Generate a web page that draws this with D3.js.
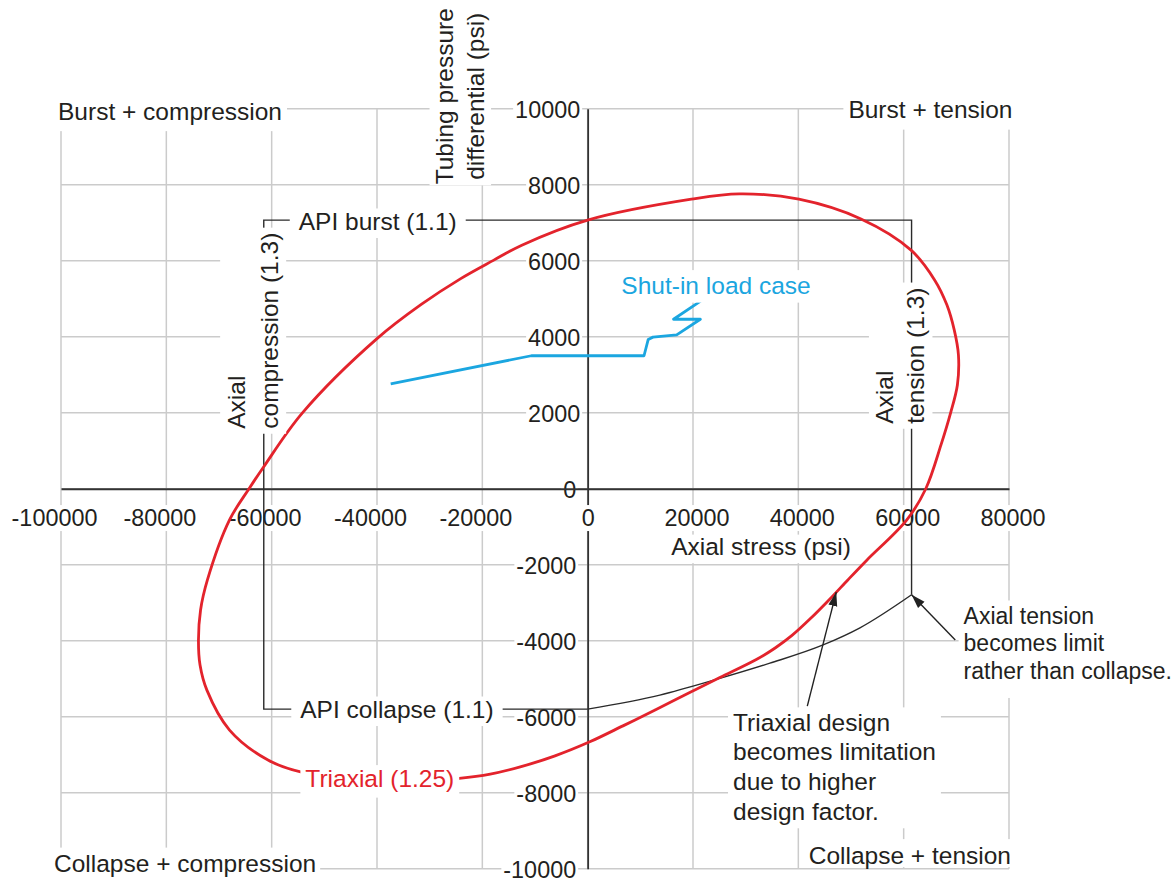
<!DOCTYPE html>
<html>
<head>
<meta charset="utf-8">
<script src="https://cdn.jsdelivr.net/npm/d3@7"></script>
<style>
  html, body { margin: 0; padding: 0; background: #fff; }
  svg { display: block; font-family: "Liberation Sans", Arial, Helvetica, sans-serif; }
</style>
</head>
<body>
<svg id="chart" width="1176" height="878"></svg>
<script>
// ---- data (psi) ----
const axialTicks = [-100000, -80000, -60000, -40000, -20000, 0, 20000, 40000, 60000, 80000];
const pressureTicks = [-10000, -8000, -6000, -4000, -2000, 0, 2000, 4000, 6000, 8000, 10000];

// API design limits
const apiBurst = 7070;              // API burst (1.1)
const apiCollapse = -5800;          // API collapse (1.1)
const apiAxialTension = 61500;      // Axial tension (1.3)
const apiAxialCompression = -61500; // Axial compression (1.3)

// collapse rating reduced by axial tension: [axial stress, pressure]
const apiCollapseUnderTension = [
  [0, apiCollapse], [13700, -5430], [24600, -5010], [34600, -4590],
  [44700, -4110], [51700, -3660], [apiAxialTension, -2790]
];

// triaxial (von Mises) envelope, design factor 1.25: [axial stress, pressure]
const triaxialEnvelope = [
  [0, 7070], [19700, 7620], [28800, 7760], [40100, 7620], [51900, 7100],
  [61400, 6280], [65900, 5490], [68200, 4840], [69600, 4180], [70400, 3520],
  [70200, 2730], [68900, 1990], [67100, 1160], [64200, 0], [60600, -820],
  [53000, -1880], [49400, -2400], [46000, -2900], [42200, -3430], [38800, -3860],
  [35600, -4190], [32200, -4480], [25100, -4970], [19000, -5390], [13000, -5810],
  [6700, -6240], [400, -6660], [-6200, -7030], [-12800, -7320], [-18500, -7510],
  [-24400, -7620], [-36600, -7720], [-54500, -7450], [-60700, -7140], [-68000, -6350],
  [-72300, -5300], [-73600, -4640], [-73900, -3980], [-73500, -3190], [-72200, -2400],
  [-68000, -820], [-64300, 0], [-61500, 580], [-54200, 1990], [-40000, 3950],
  [-31600, 4850], [-24100, 5530], [-17900, 6010], [-12500, 6410]
];

// shut-in load case: [axial stress, pressure]
const shutInLoad = [
  [-37400, 2760], [-10700, 3500], [10700, 3500], [11500, 3930], [12400, 3990],
  [16900, 4050], [21400, 4460], [16300, 4460], [22000, 4990]
];

// ---- chart ----
const ink = "#231f20";
const red = "#e3232c";
const blue = "#1ba6e0";

const svg = d3.select("#chart");
const x = d3.scaleLinear().domain([-100000, 80000]).range([61, 1009]);
const y = d3.scaleLinear().domain([-10000, 10000]).range([868.75, 108.75]);
const line = d3.line().x(d => x(d[0])).y(d => y(d[1]));

// grid
const grid = svg.append("g").attr("stroke", "#cbcbcb").attr("stroke-width", 1.5);
grid.selectAll("line.v").data(axialTicks).join("line")
  .attr("x1", d => x(d)).attr("x2", d => x(d))
  .attr("y1", y(-10000)).attr("y2", y(10000));
grid.selectAll("line.h").data(pressureTicks).join("line")
  .attr("y1", d => y(d)).attr("y2", d => y(d))
  .attr("x1", x(-100000)).attr("x2", x(80000));

// white box behind a text element
function boxBehind(textSel, padX, padY) {
  textSel.each(function () {
    const b = this.getBBox();
    d3.select(this.parentNode).insert("rect", () => this)
      .attr("fill", "#fff")
      .attr("x", b.x - padX).attr("y", b.y - padY)
      .attr("width", b.width + 2 * padX).attr("height", b.height + 2 * padY);
  });
}

// y axis through x = 0
const yAxis = svg.append("g").attr("transform", `translate(${x(0)},0)`)
  .call(d3.axisLeft(y).tickValues(pressureTicks).tickSize(0).tickFormat(d => String(d)));
yAxis.select(".domain").attr("stroke", "#333").attr("stroke-width", 1.8);
yAxis.selectAll(".tick text")
  .attr("font-size", 23.4).attr("fill", ink)
  .attr("x", d => d > 0 ? -7.5 : -11.5).attr("dy", "0.36em");
boxBehind(yAxis.selectAll(".tick text"), 2, -1);
yAxis.attr("font-family", null);

// x axis through y = 0
const xAxis = svg.append("g").attr("transform", `translate(0,${y(0)})`)
  .call(d3.axisBottom(x).tickValues(axialTicks).tickSize(0).tickFormat(d => String(d)));
xAxis.select(".domain").attr("stroke", "#333").attr("stroke-width", 1.8);
xAxis.selectAll(".tick text")
  .attr("font-size", 23.4).attr("fill", ink)
  .attr("y", 37.3).attr("dy", null)
  .attr("x", d => d < 0 ? -7 : d > 0 ? 3.5 : 0);
boxBehind(xAxis.selectAll(".tick text"), 2, 0);
xAxis.attr("font-family", null);

// API design envelope
const api = svg.append("g").attr("fill", "none").attr("stroke", "#2a2a2a").attr("stroke-width", 1.4);
api.append("path")
  .attr("d", line([
    [0, apiCollapse], [apiAxialCompression, apiCollapse], [apiAxialCompression, apiBurst],
    [apiAxialTension, apiBurst], apiCollapseUnderTension[apiCollapseUnderTension.length - 1]
  ]));
api.append("path")
  .attr("d", line.curve(d3.curveMonotoneX)(apiCollapseUnderTension));
line.curve(d3.curveLinear);

// triaxial envelope
svg.append("path")
  .attr("fill", "none").attr("stroke", red).attr("stroke-width", 2.8)
  .attr("d", d3.line().x(d => x(d[0])).y(d => y(d[1])).curve(d3.curveCatmullRomClosed.alpha(0.5))(triaxialEnvelope));

// shut-in load case
svg.append("path")
  .attr("fill", "none").attr("stroke", blue).attr("stroke-width", 2.8)
  .attr("stroke-linejoin", "round")
  .attr("d", line(shutInLoad));

// text labels on white boxes
const labels = svg.append("g");
function addLabel(o) {
  const size = o.size || 24.5;
  const lh = o.lineHeight || size * 1.2;
  const g = labels.append("g")
    .attr("transform", `translate(${o.x},${o.y})` + (o.rotate ? ` rotate(${o.rotate})` : ""));
  const box = g.append("rect").attr("fill", "#fff");
  const t = g.append("text")
    .attr("font-size", size).attr("fill", o.color || ink)
    .attr("text-anchor", o.anchor || "start");
  o.lines.forEach((s, i) => t.append("tspan").attr("x", 0).attr("y", i * lh).text(s));
  const b = t.node().getBBox();
  const padX = o.padX ?? 4, padT = o.padT ?? 4, padB = o.padB ?? 4;
  const top = -0.74 * size - padT;
  const bottom = (o.lines.length - 1) * lh + 0.22 * size + padB;
  box.attr("x", b.x - padX).attr("y", top)
    .attr("width", b.width + 2 * padX).attr("height", bottom - top);
}

// quadrant labels
addLabel({ lines: ["Burst + compression"], x: x(-100000) - 3, y: y(10000) + 11, padX: 5, padT: 5, padB: 6 });
addLabel({ lines: ["Burst + tension"], x: x(80000) + 3.5, y: y(10000) + 9.5, anchor: "end", padX: 5, padT: 5, padB: 6 });
addLabel({ lines: ["Collapse + compression"], x: x(-100000) - 7, y: y(-10000) + 3, padX: 4, padT: 6, padB: 4 });
addLabel({ lines: ["Collapse + tension"], x: x(80000) + 2, y: y(-10000) - 4.5, anchor: "end", padX: 4, padT: 7, padB: -2.5 });

// axis titles
addLabel({ lines: ["Axial stress (psi)"], x: x(0) + 83.5, y: y(0) + 66, padX: 3, padT: 2, padB: 3 });
addLabel({ lines: ["Tubing pressure", "differential (psi)"], x: x(0) - 135, y: y(10000) - 12.5,
  rotate: -90, anchor: "middle", lineHeight: 31, padX: 1, padT: 5, padB: 2 });

// limit labels
addLabel({ lines: ["Axial", "compression (1.3)"], x: x(apiAxialCompression) - 18.5, y: y(0) - 60,
  rotate: -90, lineHeight: 32.5, padX: 5, padT: 7, padB: 3 });
addLabel({ lines: ["Axial", "tension (1.3)"], x: x(apiAxialTension) - 18.5, y: y(0) - 65,
  rotate: -90, lineHeight: 31, padX: 5, padT: 6, padB: 3 });
addLabel({ lines: ["API burst (1.1)"], x: x(apiAxialCompression) + 35, y: y(apiBurst) + 9.5, padX: 9, padT: 3, padB: 3 });
addLabel({ lines: ["API collapse (1.1)"], x: x(apiAxialCompression) + 36.5, y: y(apiCollapse) + 8.5, padX: 9, padT: 3, padB: 3 });
addLabel({ lines: ["Triaxial (1.25)"], x: x(-53600), y: y(-8000) - 5.5, color: red, padX: 5, padT: 4, padB: 5 });
addLabel({ lines: ["Shut-in load case"], x: x(6400), y: y(6000) + 33.5, color: blue, padX: 4, padT: 6, padB: 3 });

// annotations
addLabel({ lines: ["Axial tension", "becomes limit", "rather than collapse."],
  x: x(apiAxialTension) + 52, y: y(-4000) - 17.25, size: 23, lineHeight: 27.7, padX: 5, padT: 6, padB: 14 });
addLabel({ lines: ["Triaxial design", "becomes limitation", "due to higher", "design factor."],
  x: x(27600), y: y(-6000) + 13.75, lineHeight: 29.8, padX: 5, padT: 5, padB: 3 });

// arrows pointing at the limits they describe
const arrows = [
  { from: [69800, -3980], to: apiCollapseUnderTension[apiCollapseUnderTension.length - 1] },
  { from: [41700, -5720], to: [47200, -2720] }
];
svg.append("defs").append("marker")
  .attr("id", "head").attr("viewBox", "-14 -6 14 12")
  .attr("refX", 0).attr("refY", 0)
  .attr("markerWidth", 14).attr("markerHeight", 12)
  .attr("markerUnits", "userSpaceOnUse").attr("orient", "auto")
  .append("path").attr("d", "M0,0L-14,-4.5L-14,4.5Z").attr("fill", "#222");
svg.append("g").selectAll("line").data(arrows).join("line")
  .attr("x1", d => x(d.from[0])).attr("y1", d => y(d.from[1]))
  .attr("x2", d => x(d.to[0])).attr("y2", d => y(d.to[1]))
  .attr("stroke", "#222").attr("stroke-width", 1.4)
  .attr("marker-end", "url(#head)");
</script>
</body>
</html>
